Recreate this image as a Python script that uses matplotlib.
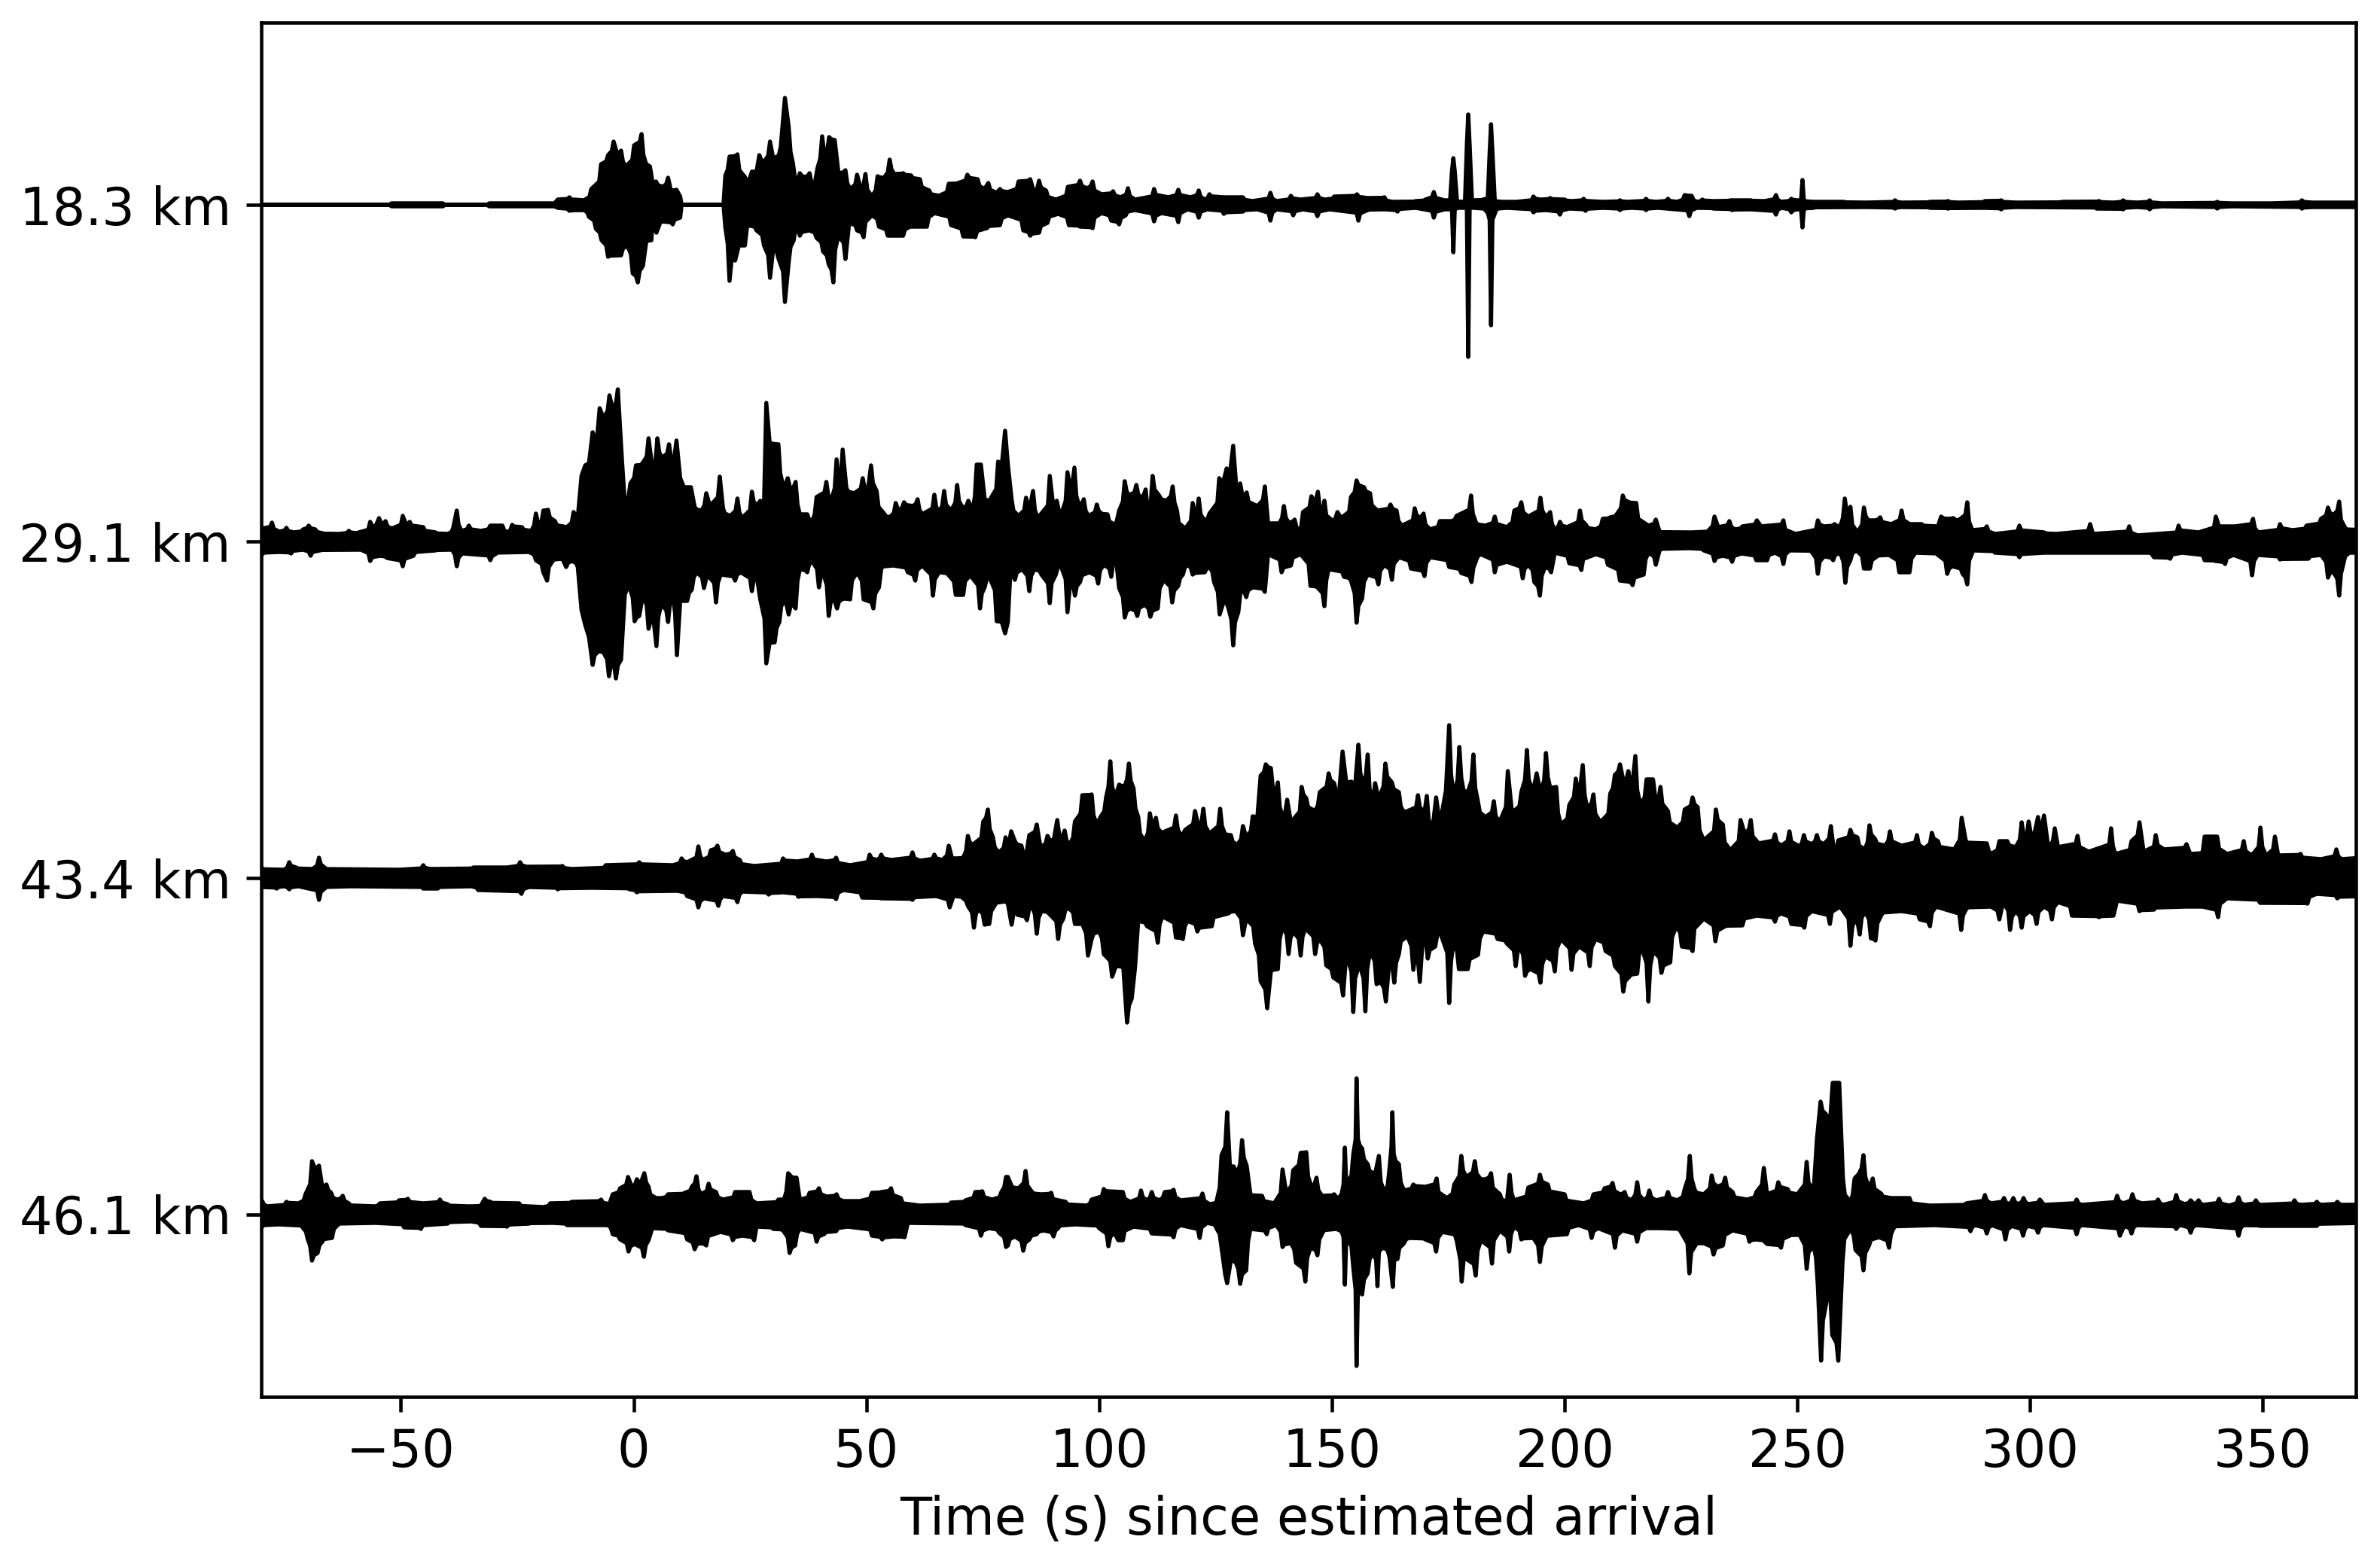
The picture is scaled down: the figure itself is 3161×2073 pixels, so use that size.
import numpy as np
import matplotlib
matplotlib.use("Agg")
import matplotlib.pyplot as plt

distance_labels = ["18.3 km", "29.1 km", "43.4 km", "46.1 km"]
trace_offsets = [1341, 894, 447, 0]
x_ticks = [-50, 0, 50, 100, 150, 200, 250, 300, 350]

# (time in s, envelope amplitude)
up_18 = [(-82,0),(-52.5,0),(-52,2),(-41,2),(-40.5,0),(-31.5,0),(-31,2),(-17,2),(-16.3,7),(-13.8,10),(-10.7,6),(-9.1,21),(-7,54),(-5.5,66),(-4.3,84),(-3.5,67),(-2.7,72),(-1.7,51),(0.1,79),(1.7,94),(2.7,54),(3.5,51),(4.1,28),(4.8,31),(6.3,24),(7.4,36),(8,19),(9.2,20),(10,11),(10.3,0),(19.3,0),(19.7,39),(20.6,64),(22.3,67),(23.9,37),(24.6,28),(25.4,44),(26.4,44),(27,66),(28,57),(29.3,84),(30,61),(31.6,77),(32.5,142),(33.3,104),(34.2,56),(34.9,24),(35.7,42),(36.8,37),(37.8,42),(38.8,24),(39.5,49),(40.5,91),(41.2,54),(42,90),(43.2,86),(44,42),(45.5,46),(46.5,21),(48,40),(48.8,21),(49.8,41),(51.2,11),(52.4,38),(53.8,36),(55,60),(56,41),(57.9,42),(59.6,39),(61.5,34),(63.5,19),(65.6,12),(67.7,28),(69.7,29),(71.7,40),(73.9,34),(75.4,21),(76.2,29),(78,16),(78.7,21),(80.4,17),(82.7,31),(85.2,34),(86,17),(87.1,32),(88.6,19),(90.7,7),(93.3,24),(95.9,32),(97.4,22),(98.6,31),(100.5,14),(103,18),(104.6,10),(106.2,22),(107.7,7),(111.8,21),(114.9,10),(117,20),(119.6,10),(121.4,19),(122.7,7),(123.7,14),(126.8,10),(130.9,10),(133,5),(136.8,16),(138.1,5),(141.2,12),(143.3,7),(146.9,14),(148.4,7),(150.5,11),(155.4,14),(157.7,9),(161.3,10),(162.9,4),(168,5),(170.1,7),(171.9,17),(174.2,6),(175.4,6),(175.8,45),(176.1,62),(176.4,45),(176.9,4),(178.6,5),(179,80),(179.3,120),(179.6,80),(180.1,6),(182.5,7),(183.5,10),(183.9,70),(184.2,107),(184.5,70),(185,6),(186.6,4),(189.7,4),(193.3,11),(194.8,7),(196.9,9),(200,7),(201.5,5),(204.1,8),(208.2,4),(211.9,6),(213.4,4),(217.5,8),(219.6,4),(222.2,8),(224.2,4),(225.8,13),(227.3,12),(228.4,4),(229.6,7),(232,5),(235.6,6),(240,6),(243,5),(245.4,13),(246.5,4),(248.7,8),(250,6),(250.8,6),(251.1,33),(251.4,6),(253.5,4),(260,4),(265,3),(271,6),(272.4,3),(278.5,4),(282.4,5),(284.6,3),(290.3,5),(293.8,6),(296.9,3),(306.9,4),(314.8,5),(317.9,3),(320,6),(323,3),(325.7,6),(328.4,2),(340.2,4),(343.2,2),(351.9,2),(358.4,6),(360.6,3),(372,3)]
dn_18 = [(-82,0),(-52.5,0),(-52,2),(-41,2),(-40.5,0),(-31.5,0),(-31,2),(-17,2),(-16.3,4),(-13.8,8),(-10.7,7),(-9.6,16),(-8.1,32),(-6.9,47),(-5.5,69),(-2.7,67),(-1.4,54),(-0.2,91),(0.9,103),(2,81),(2.7,49),(3.8,47),(4.1,24),(4.9,37),(5.8,22),(8.4,26),(10,17),(10.3,0),(19.3,0),(19.7,30),(20.6,101),(21.3,57),(21.8,74),(22.6,54),(23.9,54),(24.4,27),(26.4,34),(28,54),(29.3,97),(30,57),(31.1,71),(32.5,129),(33.3,77),(34.4,47),(34.9,24),(35.7,41),(37.8,34),(39.3,44),(40.7,62),(41.9,79),(42.9,103),(44,41),(45.5,72),(46.3,24),(48,34),(49.4,43),(51.2,14),(52.7,29),(54.6,41),(57.9,41),(59.4,29),(63,29),(64.6,11),(68.2,27),(70.8,42),(73.4,43),(75.9,31),(78.7,27),(80.4,14),(83.7,34),(85.2,41),(87.1,37),(88.9,24),(91.2,12),(93.5,27),(95.9,29),(98.6,31),(100.5,11),(102.6,21),(104.3,26),(105.7,14),(107.7,7),(111.8,22),(113.4,11),(117,23),(119,6),(121.4,17),(123.2,6),(126.8,12),(130.9,9),(134,6),(136.8,21),(138.1,6),(141.7,14),(143.8,6),(146.9,15),(149.5,6),(155.7,21),(157.7,7),(161.3,6),(164.1,9),(168,4),(171.9,17),(174.2,6),(175.8,6),(176.1,63),(176.4,6),(177.3,4),(179,4),(179.3,202),(179.6,4),(180.4,4),(183,7),(183.9,20),(184.2,160),(184.5,20),(185.3,7),(187.6,4),(193.3,10),(196,7),(199,13),(201,5),(204.5,8),(208.2,4),(211.9,7),(214.4,4),(217.5,7),(220.1,4),(226.8,15),(228.4,4),(232,5),(236,7),(240,6),(245.4,13),(246.5,4),(248.7,10),(250,6),(250.8,6),(251.1,30),(251.4,6),(253.5,4),(265,3),(271,5),(272.4,3),(278.5,4),(282.4,5),(290.3,4),(293.8,6),(296.9,3),(314.3,5),(320,6),(323,3),(325.7,6),(328.4,2),(340.2,5),(343.2,2),(358.4,5),(360.6,3),(372,3)]

up_29 = [(-82,14),(-79.8,17),(-77.7,25),(-76.1,13),(-74.6,18),(-73,12),(-71,16),(-69.8,21),(-68.4,16),(-66.9,11),(-63.3,10),(-61.2,14),(-59.6,11),(-56.6,26),(-55.5,19),(-54.7,31),(-54,21),(-53.3,27),(-52,17),(-49.6,34),(-48.8,21),(-48.1,26),(-45.2,19),(-42.6,12),(-40,10),(-38.8,17),(-38,41),(-37,14),(-35.4,21),(-32.8,14),(-30.8,21),(-28.2,21),(-27.2,12),(-26.1,22),(-24,19),(-22,14),(-21,37),(-20.3,19),(-19.4,41),(-18.4,42),(-16.9,27),(-14.3,19),(-12.9,39),(-12,32),(-11.2,87),(-10.4,101),(-9.6,104),(-8.8,145),(-7.9,134),(-7.3,177),(-6.5,164),(-5.2,194),(-4.5,176),(-3.4,202),(-2.5,107),(-1.9,51),(-0.7,77),(0.5,101),(1.7,102),(3.2,137),(4.1,94),(5.1,137),(6,111),(7.6,129),(8.4,94),(9.2,134),(10,84),(10.8,72),(12.3,72),(13.1,46),(14.6,41),(15.6,64),(16.4,47),(18.5,86),(19.2,44),(20.8,34),(22.3,57),(23.3,31),(25.4,66),(26.4,47),(27.2,54),(28,47),(28.5,184),(29.2,132),(31.1,129),(32.1,74),(33.1,84),(33.9,64),(34.8,79),(35.7,36),(37.3,36),(38.3,26),(39.3,59),(41.4,79),(42.4,54),(43.6,109),(44.3,61),(44.9,122),(45.7,71),(47.4,64),(49.2,84),(50.1,57),(51,101),(52.2,67),(53.8,37),(55,32),(56.3,51),(57.4,41),(58.1,52),(60,47),(61,56),(62,36),(64.6,62),(65.6,39),(66.7,67),(68.2,41),(69.5,75),(70.8,44),(71.9,54),(72.8,41),(73.7,102),(74.6,102),(75.4,57),(76.4,54),(78.3,106),(79.1,102),(79.8,147),(80.4,102),(81.2,56),(82.7,34),(84.3,58),(85,41),(85.8,67),(86.8,31),(89.4,87),(90.2,44),(90.9,54),(91.9,37),(93.2,92),(94,64),(94.7,98),(95.9,44),(96.7,56),(97.7,34),(99.5,49),(100.5,37),(101.8,36),(103.6,22),(104.3,41),(105.5,80),(106.4,61),(108,75),(109.3,57),(110,69),(110.5,37),(111.5,87),(112.9,61),(114.4,54),(115.8,73),(116.7,42),(118.5,17),(120.1,51),(120.8,27),(121.4,57),(122.7,27),(123.7,37),(125.8,84),(126.6,77),(127.4,97),(128,84),(128.8,127),(129.6,61),(130.3,77),(130.9,57),(131.7,65),(134,47),(135.6,73),(136.3,24),(138.7,24),(139.7,47),(140.7,25),(142,29),(143.3,14),(143.8,39),(145.6,60),(146.4,51),(147,66),(148,37),(148.4,54),(150.5,26),(151.2,39),(152,31),(154.1,59),(155.3,81),(156.9,72),(158.2,64),(159.8,41),(162.6,49),(163.9,41),(165,21),(167.8,44),(169,31),(169.7,37),(171.1,16),(173.2,27),(175.8,27),(176.8,34),(179.9,61),(180.9,26),(183,21),(185,33),(187.6,19),(189.2,41),(190.7,52),(192.2,33),(194.8,58),(195.8,34),(196.9,39),(197.9,16),(199,26),(200.5,19),(203.3,41),(204.6,22),(206.7,16),(208.2,30),(209.8,32),(211.3,37),(212.5,61),(213.9,52),(215.4,51),(218,21),(219.6,29),(220.4,13),(227.3,12),(231,15),(232.2,33),(233,19),(235.4,27),(236.6,16),(238.2,20),(241.3,28),(242.2,20),(247,28),(249.6,10),(254.4,28),(255.7,20),(258,23),(259.2,20),(260.2,57),(260.8,30),(261.4,46),(262.9,12),(264.3,45),(265.3,28),(266.7,28),(267.8,32),(270.2,23),(272.4,41),(274.1,23),(276.7,23),(280.2,20),(280.9,33),(282,30),(283.5,31),(284.6,28),(286.5,52),(287.6,15),(290.7,20),(292.5,10),(297.7,21),(303,12),(305.6,10),(312.9,23),(313.5,10),(321.3,20),(323.1,8),(331.9,21),(336.2,12),(339.9,33),(340.6,20),(344.1,20),(347.9,30),(349,12),(353.7,23),(356.4,15),(359.4,21),(362.5,30),(364,45),(365.1,35),(366.4,53),(367.7,18),(372,15)]
dn_29 = [(-82,17),(-79.8,17),(-76.1,14),(-73.6,16),(-71,11),(-69.4,19),(-67.4,12),(-58.6,11),(-56.6,26),(-54.5,19),(-53,22),(-49.6,33),(-47.3,19),(-42.6,12),(-39,11),(-38,33),(-36.8,16),(-30.8,25),(-29.7,17),(-22.5,14),(-21,25),(-19.4,41),(-18.6,52),(-17.4,26),(-15.3,23),(-14.5,34),(-13.3,26),(-12,34),(-11.2,91),(-10.4,111),(-9.6,127),(-8.8,164),(-7.6,146),(-6.5,147),(-5.3,179),(-4.7,157),(-3.8,182),(-2.7,157),(-1.9,71),(-0.9,61),(0.2,106),(1.2,99),(2,71),(3.2,116),(4.1,94),(4.9,139),(5.9,84),(7.4,107),(8.4,71),(9.3,151),(10,79),(11.5,79),(12.5,64),(13.5,41),(15.1,62),(15.8,44),(17.7,81),(18.7,44),(21.8,52),(23,41),(25.4,66),(26.4,44),(27.2,77),(28.5,162),(29.2,135),(30.3,134),(31.3,107),(32.6,77),(33.3,97),(33.9,81),(34.8,89),(35.7,37),(37.3,41),(38.3,26),(39.8,61),(40.7,41),(41.9,99),(42.9,74),(43.7,89),(45,76),(46.5,77),(48,41),(49.4,77),(51.5,89),(52.7,61),(53.2,36),(55.8,32),(58.9,41),(60.5,52),(62,32),(64.3,72),(65.6,41),(67.7,45),(69.2,71),(70.8,71),(72.3,45),(74.4,89),(75.4,61),(76.4,47),(78,106),(79.1,107),(79.8,122),(80.4,107),(80.9,44),(81.9,51),(83.5,37),(85,66),(86.1,37),(87.6,44),(89.4,82),(90.7,44),(91.7,31),(93.2,94),(94,41),(94.8,72),(95.9,54),(97.9,41),(99.8,56),(101,31),(102.6,47),(103.6,21),(104.3,62),(105.5,101),(106.7,89),(108.2,99),(109.8,84),(111,100),(112.6,89),(113.9,51),(115.7,81),(117,59),(118,44),(119,31),(120.1,44),(122.7,41),(123.7,34),(124.7,54),(125.9,97),(126.8,79),(127.8,89),(128.8,138),(129.9,94),(130.9,61),(131.6,74),(133,61),(135.6,67),(136.3,17),(139.2,41),(141.2,32),(143.3,17),(145.4,59),(146.9,61),(148.4,86),(149.3,37),(152.6,47),(154.1,52),(155.3,108),(156.5,76),(157.7,44),(160,57),(161.3,31),(162.9,51),(164.4,21),(167,36),(169.9,46),(171.1,21),(175.2,34),(177.8,42),(180,54),(180.9,27),(182,17),(185,41),(187.6,27),(191,49),(192.2,31),(193.5,54),(194.7,72),(195.8,34),(197.1,41),(197.9,15),(201,29),(203.6,38),(206.7,17),(209.3,31),(211.9,52),(214.6,58),(217,44),(218,15),(219.6,31),(220.4,12),(226.8,9),(229.9,12),(232.2,26),(234,19),(236,27),(238,16),(241.2,25),(243.5,25),(245.2,15),(247,30),(248.3,12),(253,13),(254.4,43),(255.7,20),(257.7,25),(259.2,15),(260.3,55),(261.4,25),(262.7,12),(264.3,36),(265.6,36),(267.1,20),(269.7,18),(271.9,41),(274.1,41),(275.4,15),(280.2,18),(282.2,43),(283.3,33),(285.5,43),(286.5,57),(287.8,12),(292.5,15),(297.7,21),(303,15),(325.7,15),(326.6,21),(330.1,23),(332.7,15),(337.5,25),(339.8,26),(341.9,30),(343.7,18),(347.7,45),(348.9,18),(353.7,24),(359.8,23),(362.5,18),(364,48),(365.1,40),(366.4,72),(367.3,30),(368.6,15),(372,15)]

up_43 = [(-82,12),(-79.8,13),(-75.1,11),(-74,21),(-72.5,14),(-69,12),(-67.6,27),(-66.4,14),(-50.4,11),(-45.2,17),(-43.7,12),(-34.4,14),(-27.2,14),(-24.4,21),(-23,15),(-15.3,16),(-13.3,12),(-6,17),(1.2,21),(8.4,17),(10.3,26),(11.5,21),(13.9,42),(14.8,24),(16.6,37),(18,43),(19.7,31),(21.3,36),(22.8,24),(25.9,16),(32.1,26),(35.2,22),(38.3,31),(41.4,22),(43.5,27),(46.5,17),(50.7,31),(52.2,24),(53.2,31),(55.3,24),(59.9,34),(61.5,23),(64.6,31),(66.3,24),(67.7,43),(68.4,26),(70.8,27),(71.8,56),(72.8,44),(75.1,75),(76.1,91),(77.2,54),(78.5,34),(79.9,54),(80.4,37),(81.1,62),(81.9,49),(83.3,43),(84.3,29),(85,57),(86.6,71),(87.4,41),(88.9,56),(90.2,49),(91,77),(91.9,51),(92.6,63),(93.6,44),(94.8,75),(96.4,110),(98.4,111),(99.5,71),(100.3,81),(101.5,107),(102.4,155),(103.4,107),(104.3,124),(105.5,122),(106.4,152),(107.4,119),(108.4,81),(109.8,49),(110.9,86),(111.6,64),(112.2,80),(113.4,60),(116.5,83),(117.5,57),(118.5,64),(120.6,89),(121.4,67),(122.4,92),(123.7,59),(126,92),(127,59),(128.3,57),(129.7,44),(130.9,69),(131.6,54),(133,82),(134,81),(134.7,136),(135.8,151),(136.9,146),(137.6,102),(138.4,127),(139.4,81),(140.4,104),(141.2,74),(143.5,121),(144.5,106),(146.4,89),(147.4,114),(149.3,139),(150.5,126),(151.5,109),(152.3,168),(153.1,127),(154.2,128),(154.8,107),(155.7,177),(156.7,124),(157.7,164),(158.8,100),(159.3,126),(160.3,109),(161.5,152),(162.9,127),(164.4,114),(165.5,87),(168.5,110),(169.9,87),(170.4,109),(171.6,64),(172.4,107),(173.2,71),(174,99),(174.5,116),(175.2,203),(176.1,111),(177.4,174),(178.3,116),(179.2,114),(180.4,164),(181.4,101),(183,81),(184.8,102),(186,74),(187.8,142),(188.7,87),(190.7,114),(191.9,170),(193.2,114),(194,139),(194.8,114),(196,166),(196.9,120),(198.2,121),(199.2,71),(201,97),(202.4,132),(203.1,107),(203.9,150),(204.8,94),(206.2,111),(207.7,74),(209.8,112),(210.8,137),(211.9,151),(212.7,127),(213.7,142),(214.4,114),(215.2,162),(216.3,97),(217.6,131),(219,131),(219.8,91),(220.6,121),(222.2,89),(224.2,67),(225.8,91),(227.5,107),(228.6,94),(229.9,50),(232.5,91),(234,71),(235.6,37),(237.8,77),(238.7,59),(240,77),(241.7,46),(245.2,58),(246.5,43),(248.3,62),(250.5,42),(251.4,57),(253.1,45),(254.2,57),(255.7,45),(257.2,69),(257.9,34),(258.8,50),(261.4,64),(262.9,54),(264.5,38),(265.5,70),(266.7,52),(268.8,43),(269.9,62),(272.4,43),(275.7,57),(277.2,39),(278.9,60),(280.2,49),(283.7,38),(285.3,80),(286.2,49),(290.7,46),(291.6,32),(293.4,49),(295.1,49),(296.9,41),(298.2,74),(299.1,49),(299.7,75),(300.8,55),(301.7,81),(302.3,60),(303,83),(303.9,41),(305.3,66),(306,41),(310.2,56),(312.6,35),(317.4,66),(318.3,32),(321.8,49),(323.5,74),(324.4,35),(327,57),(328.8,38),(333.6,45),(334.4,32),(337.1,35),(337.5,55),(340.2,55),(342.3,32),(345.9,49),(347.6,30),(349.5,67),(350.7,30),(352.6,55),(353.3,30),(358.1,32),(362.5,25),(365.8,38),(366.9,25),(372,32)]
dn_43 = [(-82,12),(-79.8,12),(-76.7,14),(-75.1,11),(-74,15),(-72,11),(-67.6,29),(-66.4,14),(-60.7,11),(-45.2,14),(-42.1,14),(-34.9,11),(-33.4,16),(-24.1,21),(-22.5,12),(-16.3,15),(-9.1,13),(-0.9,15),(0.7,19),(9.4,17),(11.5,24),(13.9,39),(15.1,27),(18.2,37),(19.2,24),(22.3,32),(23.3,18),(29,22),(32.1,19),(35.4,25),(39.3,24),(43.5,28),(45,16),(49.1,26),(53.2,27),(59.9,29),(65,24),(67.9,39),(68.7,24),(70.8,27),(71.8,37),(73.1,66),(74,41),(75.4,62),(76.4,61),(77.5,37),(79.9,31),(80.4,34),(81.2,62),(81.9,37),(82.5,49),(84.5,56),(85.6,37),(86.6,74),(87.6,44),(89.2,47),(91.2,81),(92.3,54),(93.3,39),(94.8,61),(96.4,61),(97.6,103),(98.4,81),(100,71),(101,101),(102.8,131),(103.6,117),(105.2,119),(106,192),(107,160),(107.7,120),(108.4,57),(110.3,64),(112.6,86),(113.6,51),(116.5,79),(118,81),(119,57),(121.1,71),(124.2,64),(127.8,47),(129.4,44),(130.9,76),(131.6,54),(133.5,87),(134.7,137),(136.1,173),(136.9,124),(138.4,121),(139.4,64),(140.7,101),(141.7,71),(143.3,103),(144.3,67),(146.4,101),(147.4,81),(148.8,116),(150.3,132),(152.4,156),(153.1,101),(154.6,178),(155.9,114),(157.2,177),(158.2,97),(159.6,141),(160.6,139),(161.6,164),(162.4,107),(163.4,139),(164.4,101),(166.2,77),(167.5,122),(168.2,87),(168.9,138),(169.6,74),(170.6,107),(172.2,91),(173.2,71),(175.2,166),(176.1,87),(177.3,121),(179.2,121),(181.4,102),(182.5,71),(185.6,81),(187.6,87),(189.5,117),(190.5,91),(191.5,130),(192.7,121),(194.8,139),(195.8,104),(197.9,124),(199.2,81),(201.5,122),(203.1,91),(205.4,117),(206.7,81),(208.8,97),(210.8,117),(212.6,151),(213.9,131),(215.6,127),(216.5,91),(218,164),(219,97),(220.8,126),(222.7,112),(224,64),(225.2,91),(227.5,97),(229.9,54),(232.4,84),(234.5,64),(238.2,63),(241.3,50),(245.2,58),(246.5,47),(248.7,61),(251.5,66),(253.1,44),(257,61),(259.2,38),(261.4,90),(262.3,55),(263.4,75),(264.5,44),(265.8,80),(266.8,83),(268,50),(272.4,44),(276.3,55),(278.5,64),(279.8,38),(285.2,69),(286.3,41),(291.6,38),(293.4,55),(294.2,32),(295.7,69),(296.9,44),(298.2,66),(299.9,44),(301.4,61),(303,38),(304.7,55),(306,32),(309,50),(314.8,52),(317.9,50),(318.7,30),(323.5,44),(326.6,42),(333.2,38),(337.1,38),(340.4,52),(342.3,27),(349.4,33),(359.6,34),(361.6,21),(366,27),(372,24)]

up_46 = [(-82,12),(-79.8,18),(-78.7,11),(-74.6,17),(-72,15),(-70.5,27),(-69.1,71),(-68.4,60),(-67.6,65),(-66.9,37),(-66,40),(-65,29),(-63.8,20),(-62.5,25),(-61.2,15),(-55.5,11),(-54.5,15),(-50.4,19),(-48.5,21),(-45.2,15),(-41.6,20),(-40,14),(-35.4,11),(-32.8,12),(-32,21),(-30.8,17),(-24.6,15),(-19.4,10),(-17.9,15),(-13.3,17),(-7,20),(-5.2,14),(-4.5,27),(-2.9,35),(-1.2,50),(-0.4,37),(0.7,47),(1.4,40),(2.3,55),(3.2,37),(4.8,22),(6.1,22),(7.4,27),(11,29),(12.5,37),(13.5,51),(14.4,27),(16.1,41),(17.7,30),(19.2,20),(21.8,30),(24.9,30),(26.4,15),(31.1,20),(32.3,20),(33.2,55),(34.1,49),(35,49),(35.7,20),(37.8,29),(39.8,35),(41.4,24),(43.6,27),(45,18),(48.6,18),(51.2,29),(53.2,30),(55.3,35),(57.4,22),(61.5,12),(68.2,16),(71.3,19),(73.4,30),(74.9,31),(77,20),(79,30),(80,50),(80.4,50),(81.2,38),(82.7,35),(84.2,58),(85.6,30),(87.6,27),(89.7,29),(92.8,17),(97.4,12),(98.4,20),(101,34),(105.1,30),(106.7,17),(109,32),(110.3,19),(111.3,30),(112.9,19),(114.1,30),(116,33),(117.5,19),(122.2,28),(123.7,14),(125.2,17),(126.3,79),(127.1,90),(127.5,136),(128.1,64),(128.9,64),(129.7,54),(130.7,99),(131.7,65),(132.5,27),(135,25),(137.6,15),(139.4,60),(140.2,29),(141.7,59),(143.3,82),(144.5,83),(145.6,37),(146.7,49),(147.9,25),(150.5,27),(151.5,22),(152.5,40),(152.8,89),(153.1,40),(154.6,80),(155.1,100),(155.3,181),(155.6,100),(156.5,88),(157.7,67),(159.3,54),(160.1,78),(161.3,29),(162.4,62),(162.8,90),(163,136),(163.3,80),(164.4,67),(165.5,32),(167.5,40),(170.1,37),(172.5,48),(174.7,22),(176.3,40),(177.8,78),(178.9,50),(180.7,71),(182,47),(183,47),(184.2,55),(186.1,27),(187.6,17),(188.2,53),(189.1,19),(192.2,36),(194.7,53),(196.4,40),(200,27),(204.1,15),(206.2,27),(208.6,35),(210.3,42),(211.9,27),(212.9,30),(214.4,19),(215.6,43),(217,19),(218.2,32),(219.6,19),(222.2,30),(224.2,19),(225.8,34),(226.9,78),(227.9,34),(229.9,27),(231.6,52),(232.9,37),(234.5,49),(236.1,30),(239.2,20),(241.2,30),(242.8,62),(243.5,27),(245.9,43),(247.9,34),(250,27),(252,70),(253.5,31),(254.2,100),(255,150),(256.2,133),(257,120),(257.6,175),(259,175),(259.8,48),(261.4,17),(262.3,48),(263.2,54),(264.2,79),(265.2,38),(266.2,48),(268,28),(270.2,22),(274.1,22),(278.5,12),(286.3,15),(290.3,26),(291.6,15),(294.4,22),(295.4,14),(296.4,22),(297.4,14),(298.6,22),(299.6,14),(302.1,20),(303,13),(310,20),(311,13),(318.7,25),(320,15),(322,27),(324,15),(327.5,20),(328.6,13),(331.4,26),(333.2,14),(334.5,19),(335.4,13),(336.2,19),(337.2,13),(340.6,21),(342.8,12),(344.8,23),(346,13),(348.5,19),(349.5,13),(356.8,19),(358,13),(361.6,17),(362.6,13),(366,17),(367,13),(372,14)]
dn_46 = [(-82,13),(-79.8,16),(-76.1,13),(-71,18),(-70,33),(-69.1,61),(-67.9,51),(-66.9,36),(-64.8,31),(-63.6,14),(-55.5,11),(-49.3,17),(-45.7,19),(-40,12),(-34.9,9),(-32.8,15),(-27.2,16),(-22.5,12),(-17.4,11),(-14.3,14),(-5.5,14),(-4.5,26),(-2.9,33),(-1.1,49),(0.2,39),(2.2,56),(3.2,34),(4,18),(7.4,21),(11.5,33),(13.1,46),(14,38),(15.6,41),(18.7,23),(21.3,34),(23.3,28),(25.9,34),(26.4,16),(30,19),(32.1,21),(33.5,51),(34.7,41),(35.7,19),(39.3,36),(40.9,26),(43.5,22),(46,16),(51.2,28),(53.4,33),(55.8,29),(58.2,30),(58.9,11),(71.3,14),(74.6,28),(76.4,18),(78.5,24),(80,43),(80.4,41),(81.9,29),(83.7,48),(85,33),(86.6,26),(88.1,21),(90.2,29),(91.2,18),(94.8,13),(100,18),(102,42),(103.3,24),(104.1,34),(105.1,34),(107.4,16),(111.3,25),(116,30),(117.5,14),(121.6,31),(123.2,11),(125.2,18),(126.3,44),(127.1,80),(127.5,91),(128.3,61),(129.4,64),(130.3,92),(131.6,74),(132.5,19),(136,26),(138.1,14),(139.4,43),(141.2,38),(142.3,64),(144.3,89),(145.4,44),(146.9,54),(148,24),(151,19),(152.5,30),(152.8,93),(153.1,30),(154.6,70),(155.1,100),(155.3,201),(155.6,100),(156.5,106),(157.7,78),(158.8,51),(159.5,60),(159.8,95),(160.1,50),(161.3,44),(162.4,57),(162.8,80),(163.1,96),(163.4,60),(164.1,59),(165.5,38),(166.5,31),(170.1,33),(172.4,49),(173.7,23),(176.8,34),(177.6,60),(177.9,89),(178.3,60),(178.9,59),(180.9,81),(182,34),(184.4,65),(186.1,21),(188.1,49),(189.1,16),(190.7,33),(193.3,31),(194.7,63),(195.8,33),(200.5,26),(203,14),(205.8,31),(207.2,18),(210.8,44),(212.4,21),(215.6,36),(217.5,18),(220.6,18),(224.8,21),(226.8,78),(228.4,38),(229.9,38),(232,53),(234,41),(236.1,21),(239.7,36),(241,33),(243,36),(243.5,39),(246.5,44),(248.7,27),(250.5,27),(252,72),(253.5,41),(254.4,94),(255.1,194),(256.2,118),(256.9,84),(257.5,160),(258.8,194),(259.7,64),(261.4,19),(262.5,47),(264.2,74),(265.4,41),(267.5,30),(269.7,44),(270.6,19),(279.4,14),(287.2,22),(288.2,14),(290.7,25),(291.8,14),(294.7,33),(296,15),(298.5,28),(299.5,15),(301.7,24),(302.8,14),(310,26),(311,14),(319.3,28),(320.2,15),(321.8,25),(322.8,14),(331.4,19),(332.4,14),(334.5,24),(335.6,14),(344.8,28),(345.8,14),(349.4,15),(361.6,15),(372,11)]

envelopes = [(up_18, dn_18), (up_29, dn_29), (up_43, dn_43), (up_46, dn_46)]

def sharpen(knots, gap=0.9, shoulder=0.4, lift=0.3):
    """Join readings the way the trace looks: low floors and narrow strokes."""
    knots = sorted(knots)
    out = [knots[0]]
    for (t0, a0), (t1, a1) in zip(knots, knots[1:]):
        if t1 - t0 > gap:
            if a1 > a0:
                out.append((t1 - shoulder, a0 + lift * (a1 - a0)))
            elif a1 < a0:
                out.append((t0 + shoulder, a1 + lift * (a0 - a1)))
        out.append((t1, a1))
    return np.array(out).T

DPI = 412
fig = plt.figure(figsize=(3161/DPI, 2073/DPI), dpi=DPI)
ax = fig.add_axes([347/3161, 1-1855/2073, (3129-347)/3161, (1855-30)/2073])

for off, (up, dn) in zip(trace_offsets, envelopes):
    tu, au = sharpen(up)
    td, ad = sharpen(dn)
    ax.fill(np.r_[tu, td[::-1]], np.r_[off + au, off - ad[::-1]],
            facecolor="black", edgecolor="black", linewidth=0.95, joinstyle="round")

ax.set_xlim(-80, 370)
ax.set_ylim(-242, 1583)
ax.set_xticks(x_ticks)
ax.set_yticks(trace_offsets)
ax.set_yticklabels(distance_labels)
ax.tick_params(labelsize=12)
ax.set_xlabel("Time (s) since estimated arrival", fontsize=12)
fig.savefig("out.png", dpi=DPI)
